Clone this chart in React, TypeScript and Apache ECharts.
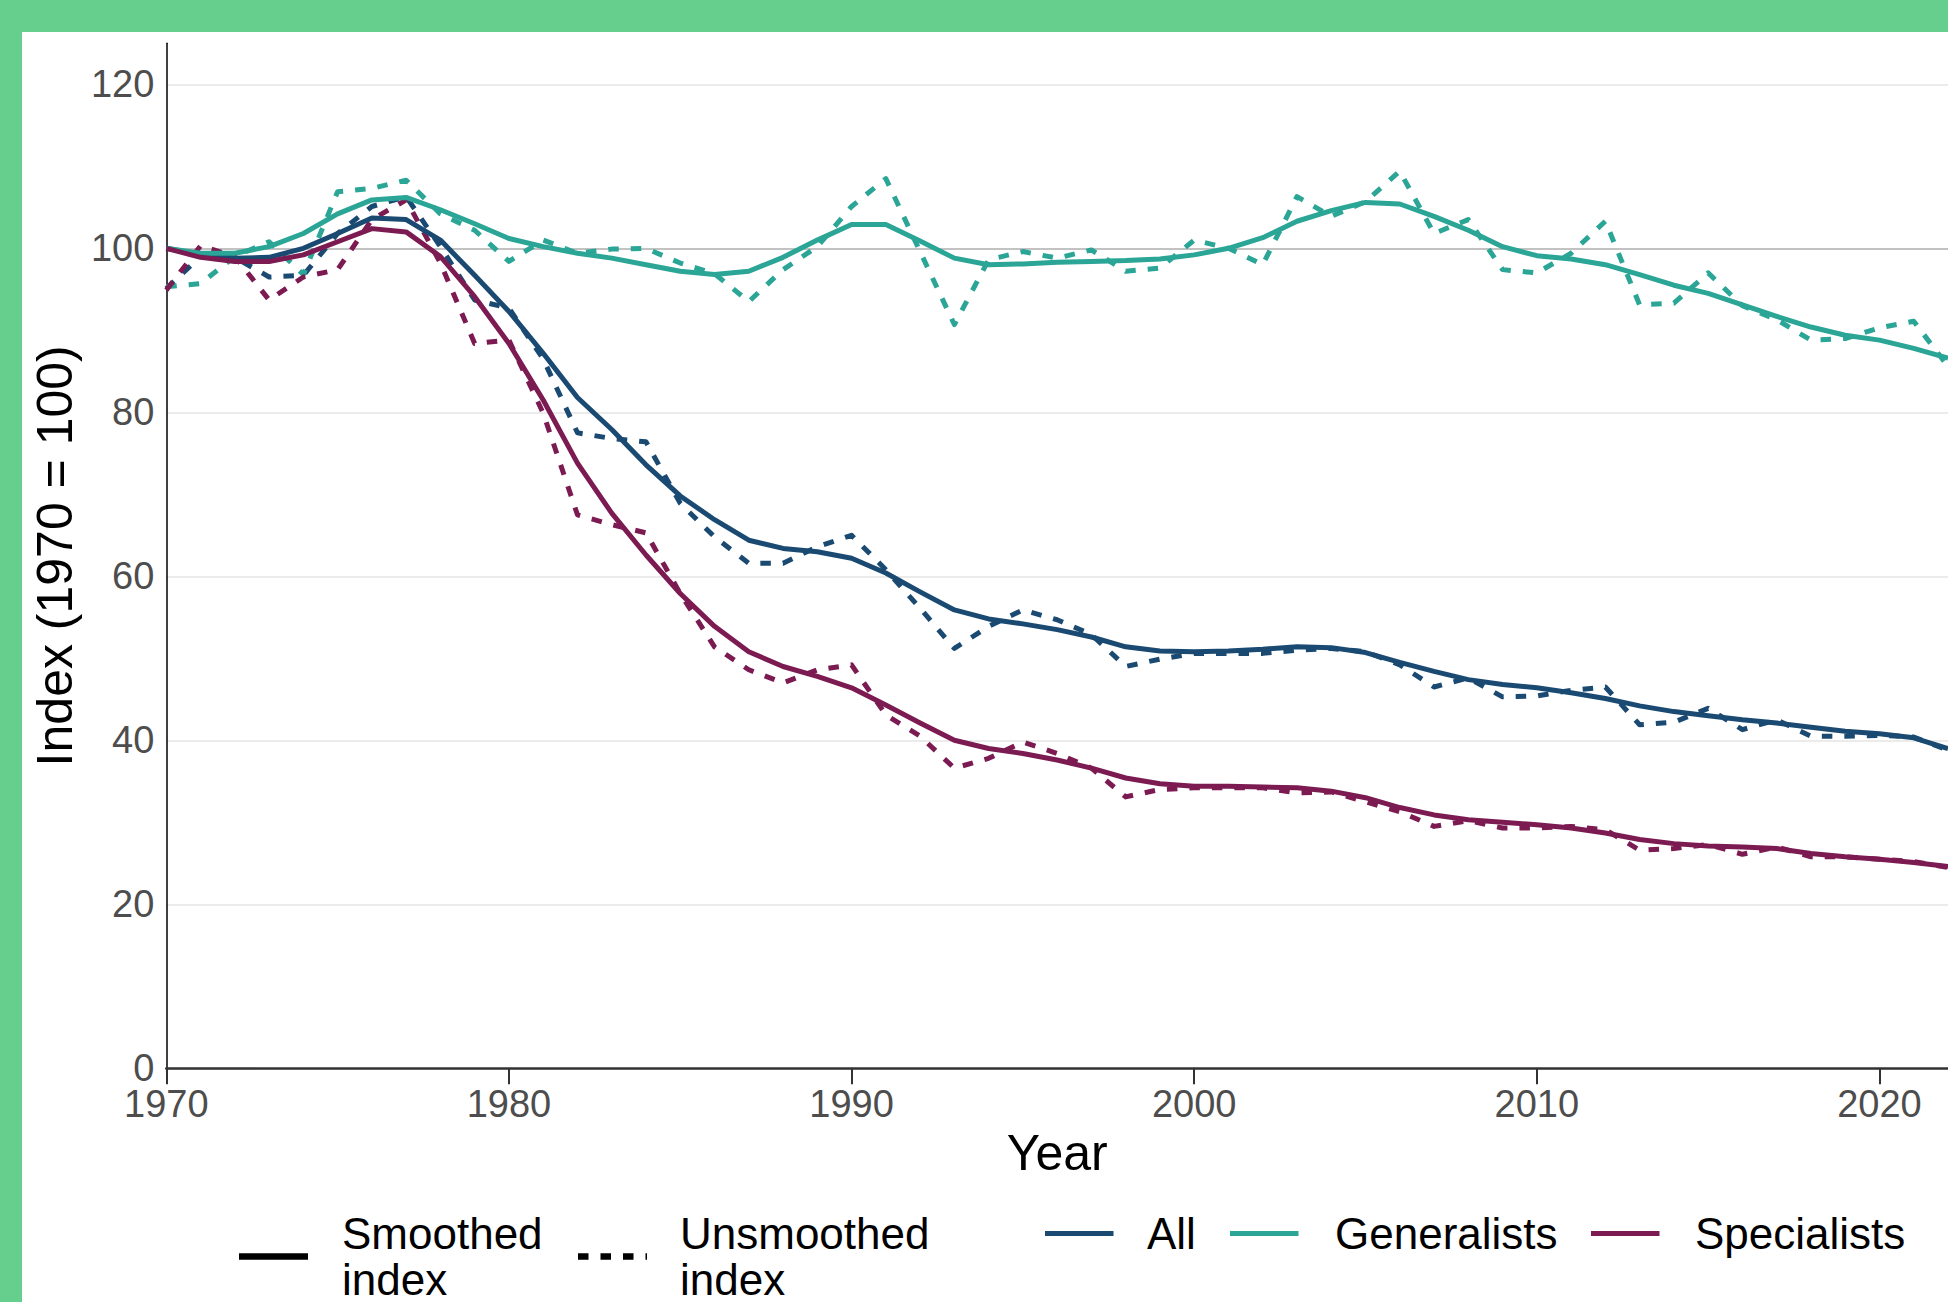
import React, { useEffect, useRef } from "react";
import * as echarts from "echarts";

// ---------- data ----------
const years = [
  1970, 1971, 1972, 1973, 1974, 1975, 1976, 1977, 1978, 1979,
  1980, 1981, 1982, 1983, 1984, 1985, 1986, 1987, 1988, 1989,
  1990, 1991, 1992, 1993, 1994, 1995, 1996, 1997, 1998, 1999,
  2000, 2001, 2002, 2003, 2004, 2005, 2006, 2007, 2008, 2009,
  2010, 2011, 2012, 2013, 2014, 2015, 2016, 2017, 2018, 2019,
  2020, 2021, 2022,
];

const allSmoothed = [
  100.0, 99.2, 98.8, 98.9, 100.0, 101.8, 103.7, 103.5, 101.0, 96.7,
  92.3, 87.2, 81.8, 77.9, 73.6, 69.8, 66.9, 64.4, 63.4, 63.0,
  62.2, 60.4, 58.1, 55.9, 54.8, 54.2, 53.5, 52.6, 51.4, 50.9,
  50.8, 50.9, 51.1, 51.4, 51.3, 50.7, 49.5, 48.4, 47.4, 46.8,
  46.4, 45.8, 45.1, 44.2, 43.5, 43.0, 42.5, 42.1, 41.6, 41.1,
  40.8, 40.3, 39.0,
];
const allUnsmoothed = [
  95.1, 99.0, 98.9, 96.5, 96.7, 101.8, 105.1, 106.3, 100.2, 93.7,
  92.7, 86.5, 77.5, 76.8, 76.4, 68.9, 64.8, 61.6, 61.6, 63.6,
  65.0, 60.8, 56.1, 51.2, 53.9, 55.9, 54.7, 52.9, 49.0, 49.9,
  50.6, 50.6, 50.6, 51.0, 51.2, 50.8, 49.2, 46.5, 47.6, 45.3,
  45.4, 46.1, 46.5, 41.9, 42.2, 43.9, 41.3, 42.5, 40.5, 40.5,
  40.6, 40.4, 38.8,
];
const generalistsSmoothed = [
  100.0, 99.4, 99.4, 100.2, 101.8, 104.2, 105.9, 106.2, 104.7, 103.0,
  101.2, 100.2, 99.4, 98.8, 98.0, 97.2, 96.8, 97.2, 98.9, 101.0,
  102.9, 102.9, 100.9, 98.8, 98.0, 98.1, 98.3, 98.4, 98.5, 98.7,
  99.2, 100.0, 101.3, 103.3, 104.6, 105.6, 105.4, 103.9, 102.2, 100.2,
  99.1, 98.7, 98.0, 96.8, 95.5, 94.5, 93.1, 91.7, 90.4, 89.4,
  88.8, 87.8, 86.6,
];
const generalistsUnsmoothed = [
  95.3, 95.7, 99.0, 100.8, 96.8, 106.9, 107.3, 108.3, 104.2, 102.2,
  98.4, 101.0, 99.4, 99.9, 100.0, 98.2, 96.9, 93.5, 97.4, 100.2,
  105.1, 108.5, 99.6, 90.7, 98.6, 99.6, 98.8, 99.8, 97.2, 97.6,
  101.0, 100.0, 98.0, 106.3, 103.9, 105.7, 109.4, 101.8, 103.5, 97.4,
  97.0, 99.4, 103.3, 93.1, 93.3, 97.0, 93.0, 91.3, 88.8, 89.0,
  90.3, 91.1, 85.6,
];
const specialistsSmoothed = [
  100.0, 98.9, 98.4, 98.4, 99.2, 100.8, 102.4, 102.0, 99.0, 94.1,
  88.4, 81.5, 73.8, 67.7, 62.6, 57.9, 53.9, 50.8, 49.0, 47.8,
  46.4, 44.3, 42.1, 40.0, 39.0, 38.4, 37.6, 36.6, 35.4, 34.7,
  34.4, 34.4, 34.3, 34.2, 33.8, 33.0, 31.8, 30.9, 30.3, 30.0,
  29.7, 29.3, 28.7, 27.9, 27.4, 27.1, 27.0, 26.8, 26.2, 25.8,
  25.5, 25.1, 24.6,
];
const specialistsUnsmoothed = [
  94.9, 100.3, 99.0, 93.7, 96.5, 97.4, 103.5, 105.9, 98.2, 88.4,
  88.8, 79.9, 67.5, 66.3, 65.3, 57.9, 51.4, 48.6, 47.0, 48.6,
  49.2, 43.1, 40.5, 36.6, 37.8, 39.8, 38.4, 36.6, 33.1, 34.0,
  34.2, 34.2, 34.2, 33.6, 33.7, 32.5, 31.3, 29.5, 30.2, 29.3,
  29.3, 29.5, 29.1, 26.6, 26.8, 27.3, 26.1, 27.0, 25.8, 25.8,
  25.5, 25.2, 24.5,
];

const xTickValues = [1970, 1980, 1990, 2000, 2010, 2020];
const yTickValues = [0, 20, 40, 60, 80, 100, 120];
const referenceValue = 100;

const groupNames = ["All", "Generalists", "Specialists"];
const linetypeNames = [
  ["Smoothed", "index"],
  ["Unsmoothed", "index"],
];

// ---------- styles ----------
const FONT = "'Liberation Sans', Arial, Helvetica, sans-serif";
const C_ALL = "#1a4a72";
const C_GEN = "#2aa596";
const C_SPE = "#7c1b52";
const GREEN = "#66cf8e";
const DASH = [10.5, 12];
const LW = 5;

export default function App() {
  const ref = useRef<HTMLDivElement>(null);

  useEffect(() => {
    if (!ref.current) return;
    const chart = echarts.init(ref.current, null, { renderer: "svg" });
    const pair = (vals: number[]) => years.map((y, i) => [y, vals[i]]);

    const mkSeries = (name: string, vals: number[], color: string, dashed: boolean, extra: any = {}) => ({
      name,
      type: "line",
      data: pair(vals),
      symbol: "none",
      showSymbol: false,
      smooth: false,
      silent: true,
      clip: true,
      z: dashed ? 3 : 4,
      lineStyle: { color, width: LW, type: dashed ? DASH : "solid", cap: "butt", join: "round" },
      itemStyle: { color },
      ...extra,
    });

    const series: any[] = [
      mkSeries("All unsmoothed", allUnsmoothed, C_ALL, true, {
        markLine: {
          silent: true,
          symbol: ["none", "none"],
          z: 1,
          label: { show: false },
          lineStyle: { color: "#c2c2c2", width: 2, type: "solid" },
          data: [{ yAxis: referenceValue }],
        },
      }),
      mkSeries("Generalists unsmoothed", generalistsUnsmoothed, C_GEN, true),
      mkSeries("Specialists unsmoothed", specialistsUnsmoothed, C_SPE, true),
      mkSeries("All smoothed", allSmoothed, C_ALL, false),
      mkSeries("Generalists smoothed", generalistsSmoothed, C_GEN, false),
      mkSeries("Specialists smoothed", specialistsSmoothed, C_SPE, false),
    ];

    // legend graphics (chart-local coordinates)
    const legendY1 = 1201.5; // first text line centre
    const legendY2 = 1247.5; // second text line centre
    const keyYLinetype = 1224.5;
    const textEl = (text: string, x: number, y: number) => ({
      type: "text",
      x,
      y,
      silent: true,
      style: {
        text,
        fill: "#000000",
        font: `44px ${FONT}`,
        fontSize: 44,
        fontFamily: FONT,
        lineHeight: 44,
        align: "left",
        verticalAlign: "middle",
        textAlign: "left",
        textVerticalAlign: "middle",
      },
    });
    const keyLine = (x1: number, x2: number, y: number, color: string, width: number, dash?: number[]) => ({
      type: "line",
      silent: true,
      shape: { x1, y1: y, x2, y2: y },
      style: { stroke: color, lineWidth: width, lineDash: dash || null, lineCap: "butt" },
    });

    const colors = [C_ALL, C_GEN, C_SPE];
    const colorKeyX = [1023, 1208, 1569];
    const colorTextX = [1125, 1313, 1673];
    const graphic: any[] = [
      keyLine(217, 286, keyYLinetype, "#000000", 6.5),
      textEl(linetypeNames[0][0], 320, legendY1),
      textEl(linetypeNames[0][1], 320, legendY2),
      keyLine(556, 625, keyYLinetype, "#000000", 6.5, DASH),
      textEl(linetypeNames[1][0], 658, legendY1),
      textEl(linetypeNames[1][1], 658, legendY2),
    ];
    groupNames.forEach((g, i) => {
      graphic.push(keyLine(colorKeyX[i], colorKeyX[i] + 68.5, legendY1, colors[i], 5));
      graphic.push(textEl(g, colorTextX[i], legendY1));
    });

    chart.setOption({
      animation: false,
      backgroundColor: "#ffffff",
      textStyle: { fontFamily: FONT },
      grid: { left: 140.7, right: 0, top: 11.3, height: 1025, containLabel: false },
      xAxis: {
        type: "value",
        min: 1970,
        max: 2022,
        interval: 10,
        name: "Year",
        nameLocation: "middle",
        nameGap: 57,
        nameTextStyle: { fontSize: 50, color: "#000000", fontFamily: FONT },
        axisLine: { show: true, onZero: false, lineStyle: { color: "#333333", width: 2.5 } },
        axisTick: { show: true, length: 16, customValues: xTickValues, lineStyle: { color: "#333333", width: 2 } },
        axisLabel: {
          customValues: xTickValues,
          formatter: (v: number) => String(v),
          fontSize: 38,
          color: "#4d4d4d",
          margin: 17,
          fontFamily: FONT,
        },
        splitLine: { show: false },
      },
      yAxis: {
        type: "value",
        min: 0,
        max: 125,
        interval: 20,
        name: "Index (1970 = 100)",
        nameLocation: "middle",
        nameGap: 85,
        nameTextStyle: { fontSize: 50, color: "#000000", fontFamily: FONT },
        axisLine: { show: true, lineStyle: { color: "#000000", width: 1.5 } },
        axisTick: { show: false, customValues: yTickValues },
        axisLabel: {
          customValues: yTickValues,
          formatter: (v: number) => String(v),
          fontSize: 38,
          color: "#4d4d4d",
          margin: 12,
          fontFamily: FONT,
        },
        splitLine: { show: true, lineStyle: { color: "#ebebeb", width: 2 } },
      },
      series,
      graphic,
    });

    return () => chart.dispose();
  }, []);

  return (
    <div
      style={{
        position: "absolute",
        left: 0,
        top: 0,
        width: 1948,
        height: 1302,
        background: GREEN,
        overflow: "hidden",
      }}
    >
      <div
        ref={ref}
        style={{
          position: "absolute",
          left: 22,
          top: 32,
          width: 1926,
          height: 1270,
          background: "#ffffff",
        }}
      />
    </div>
  );
}
